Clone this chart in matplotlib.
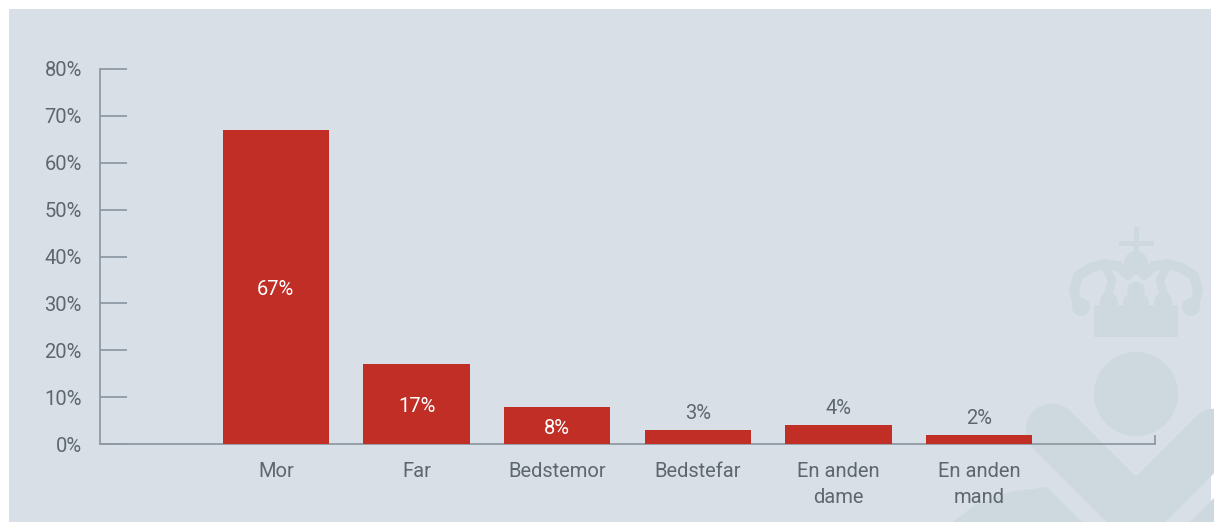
import matplotlib
matplotlib.use("Agg")
import matplotlib.pyplot as plt
from matplotlib.patches import Rectangle, Circle, Polygon, Ellipse
from matplotlib.lines import Line2D
from matplotlib.transforms import Affine2D

# data
categories = ["Mor", "Far", "Bedstemor", "Bedstefar", "En anden\ndame", "En anden\nmand"]
values = [67, 17, 8, 3, 4, 2]
yticks = [0, 10, 20, 30, 40, 50, 60, 70, 80]

BG = "#d8dfe6"
MARK = "#cdd8df"
RED = "#c02e26"
AXIS = "#8f9aa4"
TEXT = "#5e6770"
FS = 14.5

plt.rcParams["font.family"] = ["Roboto", "DejaVu Sans"]

W, H = 1214, 522
fig = plt.figure(figsize=(W / 100, H / 100), dpi=100)
fig.patch.set_facecolor("white")

# pixel transform: (x, y) measured from top-left of the picture
px = Affine2D().scale(1.0 / W, -1.0 / H).translate(0, 1) + fig.transFigure

fig.patches.append(Rectangle((9, 9), 1202, 520, transform=px, facecolor=BG,
                             edgecolor="none", zorder=-10))

# faint crown/figure watermark, bottom right
wm = dict(transform=px, facecolor=MARK, edgecolor="none", zorder=-9)
fig.patches.append(Circle((1136, 394), 42, **wm))
for x0, x1 in [(1052, 1136), (1220, 1136)]:
    fig.lines.append(Line2D([x0, x1], [430, 514], transform=px, color=MARK,
                            lw=38, solid_capstyle="round", zorder=-9))
fig.patches.append(Polygon([(930, 540), (975, 505), (1010, 492), (1047, 487),
                            (1136, 576), (1225, 487), (1240, 560)], **wm))
# crown
fig.patches.append(Rectangle((1094, 305), 84, 32, **wm))
fig.lines.append(Line2D([1136, 1136], [229, 258], transform=px, color=MARK, lw=3.5, zorder=-9))
fig.lines.append(Line2D([1121, 1151], [243, 243], transform=px, color=MARK, lw=3.5, zorder=-9))
fig.patches.append(Circle((1136, 263), 12, **wm))
fig.patches.append(Ellipse((1136, 289), 18, 14, **wm))
fig.patches.append(Ellipse((1136, 302), 26, 18, **wm))
for sx in (-1, 1):
    fig.patches.append(Circle((1136 + sx * 27, 302), 9, **wm))
    fig.patches.append(Circle((1136 + sx * 55, 307), 9, **wm))
    arch_x = [1136 + sx * d for d in (8, 18, 32, 46, 58, 62, 58)]
    arch_y = [275, 266, 264, 268, 276, 290, 305]
    fig.lines.append(Line2D(arch_x, arch_y, transform=px, color=MARK, lw=7,
                            solid_capstyle="round", zorder=-9))
    in_x = [1136 + sx * d for d in (30, 24, 27, 32)]
    in_y = [268, 280, 292, 302]
    fig.lines.append(Line2D(in_x, in_y, transform=px, color=MARK, lw=6,
                            solid_capstyle="round", zorder=-9))

ax = fig.add_axes([100 / W, 1 - 444 / H, 1055 / W, 375 / H])
ax.set_facecolor("none")

xs = list(range(len(categories)))
bars = ax.bar(xs, values, width=0.754, color=RED, zorder=3)

ax.set_xlim(-1.25, 6.25)
ax.set_ylim(0, 80)
ax.set_yticks(yticks)
ax.set_yticklabels([f"{v}%" for v in yticks])
ax.set_xticks(xs)
ax.set_xticklabels(categories, linespacing=1.45)

for s in ("top", "right"):
    ax.spines[s].set_visible(False)
for s in ("left", "bottom"):
    ax.spines[s].set_color(AXIS)
    ax.spines[s].set_linewidth(1.3)
ax.tick_params(axis="y", direction="in", length=19.5, width=1.3, color=AXIS,
               labelcolor=TEXT, labelsize=FS, pad=13)
ax.tick_params(axis="x", length=0, labelcolor=TEXT, labelsize=FS, pad=13)
# little end stub at the right of the baseline
ax.plot([1, 1], [0, 0.021], transform=ax.transAxes, color=AXIS, lw=1.3,
        clip_on=False)

for b, v in zip(bars, values):
    cx = b.get_x() + b.get_width() / 2
    if v >= 5:
        ax.annotate(f"{v}%", (cx, v / 2), xytext=(0, -2), textcoords="offset points",
                    ha="center", va="center", color="white", fontsize=FS, zorder=4)
    else:
        ax.annotate(f"{v}%", (cx, v), xytext=(0, 5), textcoords="offset points",
                    ha="center", va="bottom", color=TEXT, fontsize=FS)

fig.savefig("out.png", dpi=100, facecolor=fig.get_facecolor())
